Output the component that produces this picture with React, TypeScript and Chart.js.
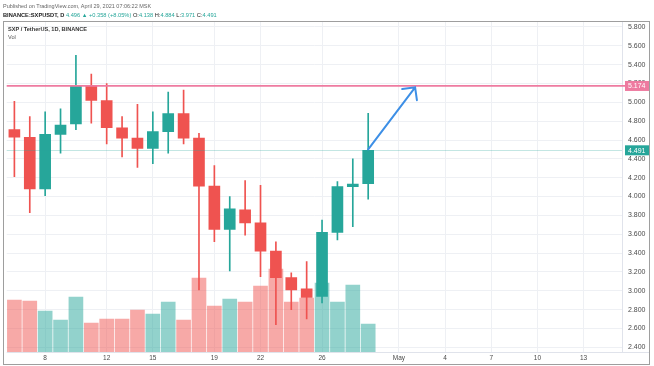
import React, { useEffect, useRef } from 'react';
import { Chart, registerables } from 'chart.js';

Chart.register(...registerables);

// ---- data ----
const dates = [
  'Apr 6', 'Apr 7', 'Apr 8', 'Apr 9', 'Apr 10', 'Apr 11', 'Apr 12', 'Apr 13', 'Apr 14', 'Apr 15',
  'Apr 16', 'Apr 17', 'Apr 18', 'Apr 19', 'Apr 20', 'Apr 21', 'Apr 22', 'Apr 23', 'Apr 24', 'Apr 25',
  'Apr 26', 'Apr 27', 'Apr 28', 'Apr 29', 'Apr 30', 'May 1', 'May 2', 'May 3', 'May 4', 'May 5',
  'May 6', 'May 7', 'May 8', 'May 9', 'May 10', 'May 11', 'May 12', 'May 13', 'May 14', 'May 15',
];

const opens = [4.71, 4.63, 4.08, 4.66, 4.77, 5.17, 5.02, 4.73, 4.62, 4.51, 4.69, 4.88, 4.62, 4.11, 3.65, 3.86, 3.72, 3.42, 3.14, 3.02, 2.94, 3.62, 4.105, 4.138];
const highs = [5.01, 4.85, 4.9, 4.93, 5.5, 5.3, 5.2, 4.85, 4.98, 4.9, 5.11, 5.13, 4.67, 4.33, 4.0, 4.17, 4.12, 3.52, 3.19, 3.31, 3.75, 4.16, 4.4, 4.884];
const lows = [4.21, 3.83, 4.01, 4.46, 4.71, 4.78, 4.56, 4.42, 4.31, 4.35, 4.46, 4.56, 3.01, 3.52, 3.21, 3.59, 3.15, 2.64, 2.8, 2.7, 2.87, 3.54, 3.68, 3.971];
const closes = [4.63, 4.08, 4.66, 4.76, 5.17, 5.02, 4.73, 4.62, 4.51, 4.69, 4.88, 4.62, 4.11, 3.65, 3.87, 3.72, 3.42, 3.14, 3.01, 2.93, 3.62, 4.105, 4.133, 4.491];
const volumes = [52, 51, 41, 32, 55, 29, 33, 33, 42, 38, 50, 32, 74, 46, 53, 50, 66, 83, 50, 54, 69, 50, 67, 28];

const xTickDates = ['Apr 8', 'Apr 12', 'Apr 15', 'Apr 19', 'Apr 22', 'Apr 26', 'May 1', 'May 4', 'May 7', 'May 10', 'May 13'];
const xTickTexts = ['8', '12', '15', '19', '22', '26', 'May', '4', '7', '10', '13'];
const yTicks = [2.4, 2.6, 2.8, 3.0, 3.2, 3.4, 3.6, 3.8, 4.0, 4.2, 4.4, 4.6, 4.8, 5.0, 5.2, 5.4, 5.6, 5.8];

const resistanceLevel = 5.174;
const lastPrice = 4.491;
const arrowFrom = { index: 23, price: 4.5 };
const arrowTo = { index: 26.05, price: 5.16 };

// ---- styles ----
const UP = '#26a69a';
const DOWN = '#ef5350';
const UP_VOL = 'rgba(38,166,154,0.5)';
const DOWN_VOL = 'rgba(239,83,80,0.5)';
const GRID = '#eef0f4';
const FONT = '"Liberation Sans", Arial, sans-serif';
const PINK = '#ee7ba0';

const overlayPlugin = {
  id: 'overlay',
  afterDraw(chart: any) {
    const { ctx, chartArea, scales } = chart;
    const x = scales.x;
    const y = scales.y;
    ctx.save();
    // separators
    ctx.strokeStyle = '#e0e3eb';
    ctx.lineWidth = 1;
    ctx.beginPath();
    ctx.moveTo(chartArea.left, Math.round(chartArea.bottom) + 0.5);
    ctx.lineTo(649, Math.round(chartArea.bottom) + 0.5);
    ctx.moveTo(Math.round(chartArea.right) + 0.5, chartArea.top);
    ctx.lineTo(Math.round(chartArea.right) + 0.5, chartArea.bottom);
    ctx.stroke();

    // current price line
    const yc = y.getPixelForValue(lastPrice);
    ctx.strokeStyle = 'rgba(38,166,154,0.28)';
    ctx.lineWidth = 1;
    ctx.beginPath();
    ctx.moveTo(chartArea.left, Math.round(yc) + 0.5);
    ctx.lineTo(chartArea.right, Math.round(yc) + 0.5);
    ctx.stroke();

    // resistance line
    const yr = y.getPixelForValue(resistanceLevel);
    ctx.strokeStyle = PINK;
    ctx.lineWidth = 1.8;
    ctx.beginPath();
    ctx.moveTo(chartArea.left, yr);
    ctx.lineTo(626, yr);
    ctx.stroke();

    // arrow
    const x1 = x.getPixelForValue(arrowFrom.index);
    const y1 = y.getPixelForValue(arrowFrom.price);
    const x2 = x.getPixelForValue(arrowTo.index);
    const y2 = y.getPixelForValue(arrowTo.price);
    ctx.strokeStyle = '#3d8fe6';
    ctx.lineWidth = 2;
    ctx.lineCap = 'round';
    ctx.beginPath();
    ctx.moveTo(x1, y1);
    ctx.lineTo(x2, y2);
    const ang = Math.atan2(y1 - y2, x1 - x2);
    const len = 13;
    ctx.moveTo(x2 + len * Math.cos(ang + Math.PI / 4), y2 + len * Math.sin(ang + Math.PI / 4));
    ctx.lineTo(x2, y2);
    ctx.lineTo(x2 + len * Math.cos(ang - Math.PI / 4), y2 + len * Math.sin(ang - Math.PI / 4));
    ctx.stroke();

    // price labels
    const drawLabel = (val: number, bg: string) => {
      const py = y.getPixelForValue(val);
      ctx.fillStyle = bg;
      ctx.fillRect(625, py - 5, 24, 10);
      ctx.fillStyle = '#ffffff';
      ctx.font = `7px ${FONT}`;
      ctx.textAlign = 'left';
      ctx.textBaseline = 'middle';
      ctx.fillText(val.toFixed(3), 628, py + 0.5);
    };
    drawLabel(resistanceLevel, PINK);
    drawLabel(lastPrice, UP);
    ctx.restore();
  },
};

export default function App() {
  const ref = useRef<HTMLCanvasElement | null>(null);

  useEffect(() => {
    if (!ref.current) return;
    const candleColors = opens.map((o, i) => (closes[i] >= o ? UP : DOWN));
    const volColors = opens.map((o, i) => (closes[i] >= o ? UP_VOL : DOWN_VOL));
    const chart = new Chart(ref.current, {
      type: 'bar',
      data: {
        labels: dates,
        datasets: [
          {
            label: 'Body',
            data: opens.map((o, i) => [o, closes[i]]) as any,
            backgroundColor: candleColors,
            barThickness: 11,
            grouped: false,
            yAxisID: 'y',
            order: 1,
          } as any,
          {
            label: 'Wick',
            data: lows.map((l, i) => [l, highs[i]]) as any,
            backgroundColor: candleColors,
            barThickness: 1,
            grouped: false,
            yAxisID: 'y',
            order: 2,
          } as any,
          {
            label: 'Vol',
            data: volumes,
            backgroundColor: volColors,
            barThickness: 14,
            grouped: false,
            yAxisID: 'vol',
            order: 3,
          } as any,
        ],
      },
      options: {
        responsive: false,
        animation: false,
        devicePixelRatio: 1,
        layout: { padding: { left: 6.7, top: 22, right: 5, bottom: 2 } },
        plugins: { legend: { display: false }, tooltip: { enabled: false } },
        scales: {
          x: {
            type: 'category',
            offset: true,
            grid: {
              offset: false,
              drawTicks: false,
              color: (c: any) => (xTickDates.includes(dates[c.index]) ? GRID : 'rgba(0,0,0,0)'),
            },
            border: { display: false },
            ticks: {
              autoSkip: false,
              maxRotation: 0,
              minRotation: 0,
              padding: 2,
              color: '#4a4a4a',
              font: { family: FONT, size: 6.5 },
              callback: (_v: any, idx: number) => {
                const k = xTickDates.indexOf(dates[idx]);
                return k >= 0 ? xTickTexts[k] : '';
              },
            },
            afterFit: (s: any) => {
              s.height = 12;
            },
          },
          y: {
            position: 'right',
            min: 2.35,
            max: 5.853,
            grid: { color: GRID, drawTicks: false },
            border: { display: false },
            afterBuildTicks: (axis: any) => {
              axis.ticks = yTicks.map((v) => ({ value: v }));
            },
            ticks: {
              padding: 6,
              color: '#4a4a4a',
              font: { family: FONT, size: 7 },
              callback: (v: any) => Number(v).toFixed(3),
            },
            afterFit: (s: any) => {
              s.width = 27;
            },
          },
          vol: {
            display: false,
            min: 0,
            max: 330,
          },
        },
      } as any,
      plugins: [overlayPlugin],
    });
    return () => chart.destroy();
  }, []);

  const green = { color: UP };
  return (
    <div
      style={{
        position: 'fixed',
        left: 0,
        top: 0,
        width: 654,
        height: 366,
        background: '#ffffff',
        fontFamily: FONT,
        overflow: 'hidden',
      }}
    >
      <canvas ref={ref} width={654} height={366} style={{ position: 'absolute', left: 0, top: 0, width: 654, height: 366 }} />
      <div style={{ position: 'absolute', left: 3, top: 2.5, fontSize: 5.5, color: '#666', whiteSpace: 'nowrap', lineHeight: '7px' }}>
        Published on TradingView.com, April 29, 2021 07:06:22 MSK
      </div>
      <div style={{ position: 'absolute', left: 3, top: 11.5, fontSize: 5.7, color: '#222', whiteSpace: 'nowrap', lineHeight: '7px' }}>
        <span style={{ fontWeight: 700 }}>BINANCE:SXPUSDT, D</span>{' '}
        <span style={green}>4.496 ▲ +0.358 (+8.05%)</span> O:<span style={green}>4.138</span> H:
        <span style={green}>4.884</span> L:<span style={green}>3.971</span> C:<span style={green}>4.491</span>
      </div>
      <div
        style={{
          position: 'absolute',
          left: 3,
          top: 21,
          width: 647,
          height: 344,
          border: '1px solid #9e9e9e',
          boxSizing: 'border-box',
          pointerEvents: 'none',
        }}
      />
      <div style={{ position: 'absolute', left: 8, top: 26, fontSize: 5.6, fontWeight: 600, color: '#333', whiteSpace: 'nowrap', lineHeight: '7px' }}>
        SXP / TetherUS, 1D, BINANCE
      </div>
      <div style={{ position: 'absolute', left: 8, top: 33.5, fontSize: 5.6, color: '#555', whiteSpace: 'nowrap', lineHeight: '7px' }}>
        Vol
      </div>
    </div>
  );
}
